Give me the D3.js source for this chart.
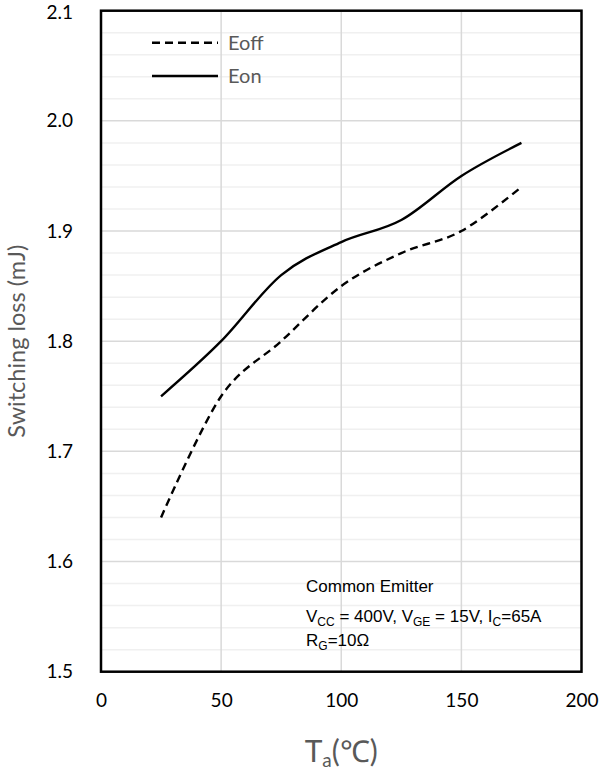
<!DOCTYPE html>
<html><head><meta charset="utf-8">
<script src="https://cdn.jsdelivr.net/npm/d3@7"></script>
<style>body{margin:0;background:#fff}svg{display:block}</style>
</head><body>
<svg id="c" width="602" height="771"></svg>
<script>
const temps = [25, 50, 75, 100, 125, 150, 175];
const eoff = [1.64, 1.75, 1.80, 1.85, 1.88, 1.90, 1.94];
const eon = [1.75, 1.80, 1.86, 1.89, 1.91, 1.95, 1.98];
const xTicks = [0, 50, 100, 150, 200];
const yTicks = [1.5, 1.6, 1.7, 1.8, 1.9, 2.0, 2.1];
const seriesNames = ["Eoff", "Eon"];

const svg = d3.select("#c");
const L = 101, R = 581.5, T = 10.7, B = 671.7;
const x = d3.scaleLinear().domain([0, 200]).range([L, R]);
const y = d3.scaleLinear().domain([1.5, 2.1]).range([B, T]);
const tickFont = "Lato, 'Open Sans', sans-serif";

// minor grid
const minor = d3.range(1.52, 2.1, 0.02).filter(v => Math.abs(v*10 - Math.round(v*10)) > 1e-6);
svg.append("g").selectAll("line").data(minor).join("line")
  .attr("x1", L).attr("x2", R).attr("y1", d => y(d)).attr("y2", d => y(d))
  .attr("stroke", "#f0f0f0").attr("stroke-width", 1.5);
// major grid
svg.append("g").selectAll("line").data(yTicks.slice(1, -1)).join("line")
  .attr("x1", L).attr("x2", R).attr("y1", d => y(d)).attr("y2", d => y(d))
  .attr("stroke", "#d9d9d9").attr("stroke-width", 1.5);
svg.append("g").selectAll("line").data(xTicks.slice(1, -1)).join("line")
  .attr("y1", T).attr("y2", B).attr("x1", d => x(d)).attr("x2", d => x(d))
  .attr("stroke", "#d9d9d9").attr("stroke-width", 1.5);

// curves
const line = d3.line().x((d, i) => x(temps[i])).y(d => y(d)).curve(d3.curveCardinal.tension(0));
svg.append("path").attr("d", line(eoff)).attr("fill", "none").attr("stroke", "#000")
  .attr("stroke-width", 2.4).attr("stroke-dasharray", "8,5");
svg.append("path").attr("d", line(eon)).attr("fill", "none").attr("stroke", "#000")
  .attr("stroke-width", 2.4);

// border
svg.append("rect").attr("x", L).attr("y", T).attr("width", R - L).attr("height", B - T)
  .attr("fill", "none").attr("stroke", "#000").attr("stroke-width", 2.5);

// axes labels via d3 axis
const xAxis = svg.append("g").attr("transform", `translate(0,${B})`)
  .call(d3.axisBottom(x).tickValues(xTicks).tickSize(0).tickPadding(22).tickFormat(d3.format("d")));
xAxis.select(".domain").remove();
xAxis.selectAll("text").attr("font-family", tickFont).attr("font-size", 19).attr("fill", "#000");

const yAxis = svg.append("g").attr("transform", `translate(${L},0)`)
  .call(d3.axisLeft(y).tickValues(yTicks).tickSize(0).tickPadding(28).tickFormat(d3.format(".1f")));
yAxis.select(".domain").remove();
yAxis.selectAll("text").attr("font-family", tickFont).attr("font-size", 19).attr("fill", "#000");
yAxis.selectAll("text").filter(d => d === 2.1).attr("dy", "0.42em");

// axis titles
const xt = svg.append("text").attr("x", x(100)).attr("y", 762).attr("text-anchor", "middle")
  .attr("font-family", tickFont).attr("font-size", 30).attr("fill", "#595959");
xt.append("tspan").text("T");
xt.append("tspan").attr("font-size", 19).attr("dy", 5).text("a");
xt.append("tspan").attr("dy", -5).text("(℃)");

svg.append("text").attr("transform", `translate(25,${(T + B) / 2}) rotate(-90)`)
  .attr("text-anchor", "middle").attr("font-family", tickFont).attr("font-size", 23.5)
  .attr("fill", "#595959").text("Switching loss (mJ)");

// legend
const lg = [{y: 42.7, dash: "8,5"}, {y: 76, dash: null}];
lg.forEach((d, i) => {
  const l = svg.append("line").attr("x1", 152).attr("x2", 218).attr("y1", d.y).attr("y2", d.y)
    .attr("stroke", "#000").attr("stroke-width", 2.4);
  if (d.dash) l.attr("stroke-dasharray", d.dash);
  svg.append("text").attr("x", 228).attr("y", d.y + 7).attr("font-family", tickFont)
    .attr("font-size", 20).attr("fill", "#595959").text(seriesNames[i]);
});

// annotation
const af = "'Liberation Sans', Arial, sans-serif";
svg.append("text").attr("x", 306).attr("y", 591.5).attr("font-family", af).attr("font-size", 17)
  .attr("fill", "#000").text("Common Emitter");
const t2 = svg.append("text").attr("x", 306).attr("y", 621.5).attr("font-family", af)
  .attr("font-size", 17).attr("fill", "#000");
[["V", 0], ["CC", 1], [" = 400V, V", 0], ["GE", 1], [" = 15V, I", 0], ["C", 1], ["=65A", 0]].forEach(([s, sub], i, arr) => {
  const prev = i > 0 ? arr[i - 1][1] : 0;
  const dy = sub && !prev ? 4 : (!sub && prev ? -4 : 0);
  t2.append("tspan").attr("font-size", sub ? 12 : 17).attr("dy", dy).text(s);
});
const t3 = svg.append("text").attr("x", 306).attr("y", 646).attr("font-family", af)
  .attr("font-size", 17).attr("fill", "#000");
t3.append("tspan").text("R");
t3.append("tspan").attr("font-size", 12).attr("dy", 4).text("G");
t3.append("tspan").attr("dy", -4).text("=10Ω");
</script>
</body></html>
